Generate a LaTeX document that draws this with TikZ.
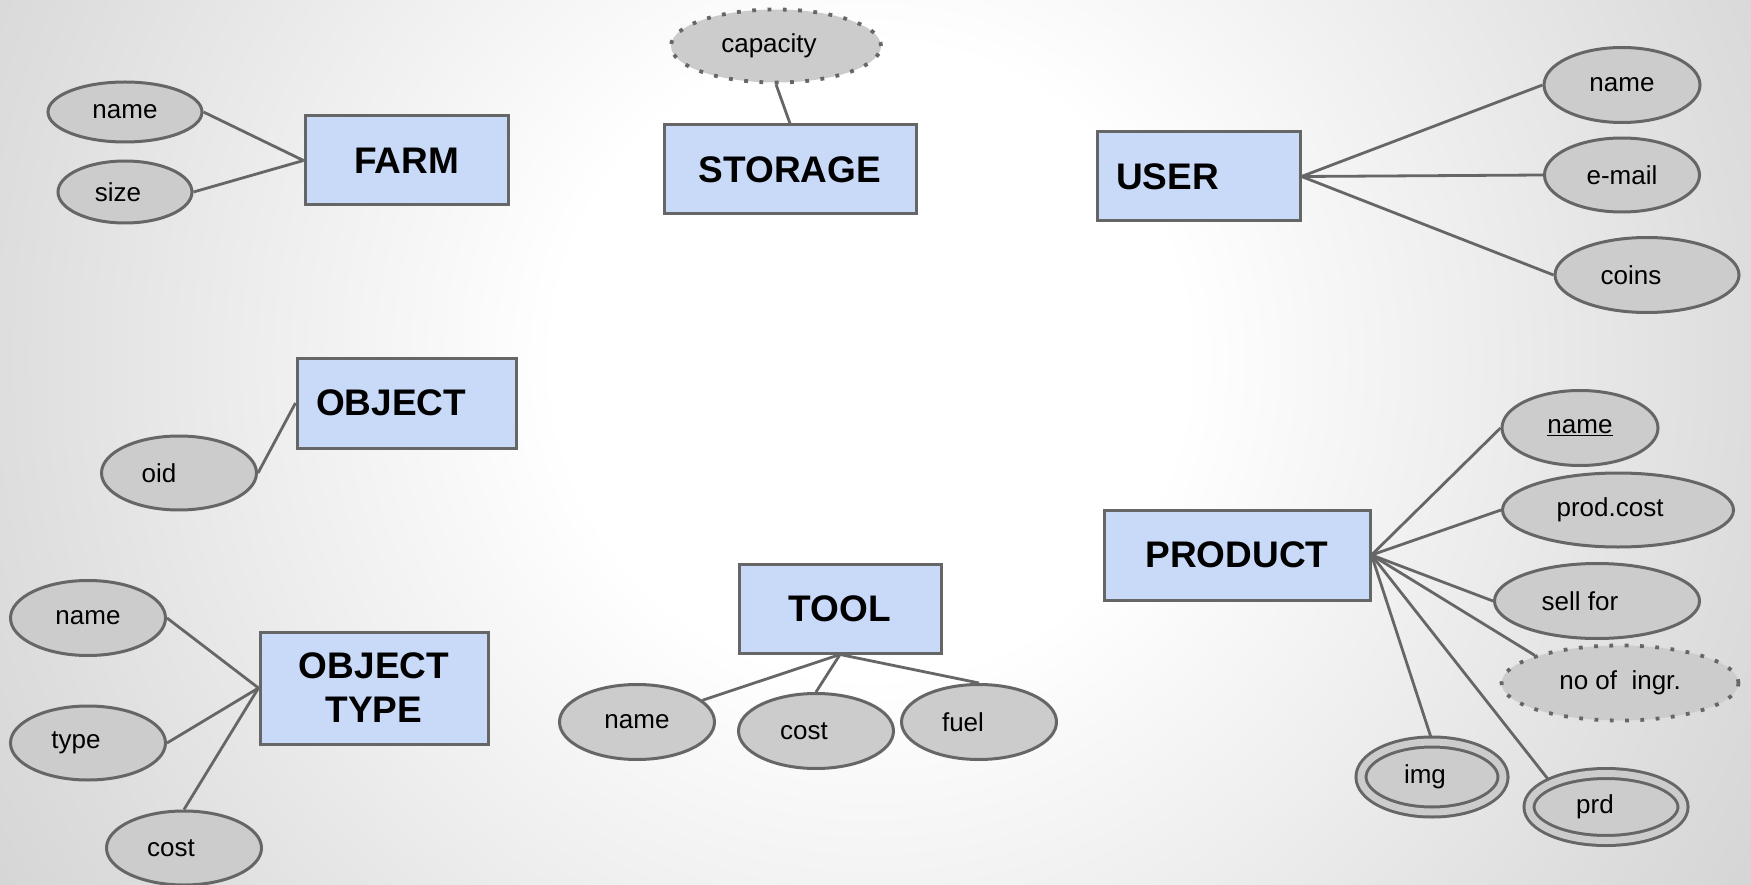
\documentclass[tikz,border=0pt]{standalone}
\usepackage{fontspec}
\setmainfont{Liberation Sans}
\usetikzlibrary{shapes.geometric}

\definecolor{entfill}{HTML}{C9DAF8}
\definecolor{lineclr}{HTML}{666666}
\definecolor{attrfill}{HTML}{CCCCCC}
\definecolor{bgmid}{HTML}{EFEFEF}
\definecolor{bgfar}{HTML}{DDDDDD}
\definecolor{bgouter}{HTML}{D4D4D4}

% soft light page behind the diagram (the shaded circle spans +-25bp)
\pgfdeclareradialshading{pagebg}{\pgfpoint{0bp}{0bp}}{%
  color(0bp)=(white); color(7.5bp)=(white); color(14bp)=(bgmid);
  color(21bp)=(bgfar); color(25bp)=(bgouter); color(50bp)=(bgouter)}

\pgfdeclarelayer{bg}
\pgfdeclarelayer{links}
\pgfsetlayers{bg,links,main}

% text pushed left inside its ellipse by half of #1
\newcommand{\lefttext}[2]{#2\hspace*{#1pt}}

\begin{document}
\begin{tikzpicture}[x=1pt,y=-1pt,
  sz/.style 2 args={minimum width=#1pt, minimum height=#2pt},
  entity/.style={rectangle, draw=lineclr, line width=3pt, fill=entfill,
    inner sep=0pt, font=\fontsize{37}{44}\selectfont\bfseries},
  attr/.style={ellipse, draw=lineclr, line width=3pt, fill=attrfill,
    inner sep=0pt, font=\fontsize{26}{30}\selectfont},
  derived/.style={attr, line width=3.8pt, dash pattern=on 3.8pt off 11.5pt},
  multival/.style={attr, double=attrfill, double distance=7pt},
  link/.style={draw=lineclr, line width=2.8pt}
]
\useasboundingbox (0,0) rectangle (1751,885);
\begin{pgfonlayer}{bg}
  \begin{scope}
    \clip (0,0) rectangle (1751,885);
    \shade[shading=pagebg] (870,360) circle[radius=1050];
  \end{scope}
\end{pgfonlayer}

% entities
\node[entity, sz={203}{89}] (farm) at (406.5,160.5) {FARM};
\node[entity, sz={252}{89}] (storage) at (790,169.5) {STORAGE};
\node[entity, sz={203}{89}, text width=165pt, inner xsep=19pt, align=left] (user) at (1198.5,176.5) {USER};
\node[entity, sz={219}{90}, text width=181pt, inner xsep=19pt, align=left] (object) at (406.5,403) {OBJECT};
\node[entity, sz={228}{112}, align=center] (otype) at (374,688) {OBJECT\\TYPE};
\node[entity, sz={202}{89}] (tool) at (840,608.5) {TOOL};
\node[entity, sz={266}{90}] (product) at (1237,555) {PRODUCT};

% FARM attributes
\node[attr, sz={154}{60}] (farmname) at (125,112) {name};
\node[attr, sz={134}{62}] (farmsize) at (125,192) {\lefttext{14}{size}};

% STORAGE attribute
\node[derived, sz={210}{73}] (capacity) at (776,46) {\lefttext{14}{capacity}};

% USER attributes
\node[attr, sz={156}{75}] (username) at (1622,85) {name};
\node[attr, sz={155}{74}] (email) at (1622,175) {e-mail};
\node[attr, sz={184}{75}] (coins) at (1647,275) {\lefttext{32}{coins}};

% OBJECT attribute
\node[attr, sz={155}{74}] (oid) at (179,473) {\lefttext{40}{oid}};

% OBJECT TYPE attributes
\node[attr, sz={155}{75}] (otname) at (88,618) {name};
\node[attr, sz={155}{74}] (ottype) at (88,743) {\lefttext{24}{type}};
\node[attr, sz={155}{74}] (otcost) at (184,848) {\lefttext{26}{cost}};

% TOOL attributes
\node[attr, sz={155}{75}] (toolname) at (637,722) {name};
\node[attr, sz={155}{75}] (toolcost) at (816,731) {\lefttext{24}{cost}};
\node[attr, sz={155}{75}] (toolfuel) at (979,722) {\lefttext{32}{fuel}};

% PRODUCT attributes
\node[attr, sz={156}{75}] (prodname) at (1580,428) {\underline{name}};
\node[attr, sz={231}{74}] (prodcost) at (1618,510) {\lefttext{16}{prod.cost}};
\node[attr, sz={205}{75}] (sellfor) at (1597,601) {\lefttext{34}{sell for}};
\node[derived, sz={237}{75}] (ningr) at (1620,683) {no of\ \ ingr.};
\node[multival, sz={142}{70}] (img) at (1432,777) {\lefttext{14}{img}};
\node[multival, sz={154}{67}] (prd) at (1606,807) {\lefttext{22}{prd}};

% connectors
\begin{pgfonlayer}{links}
  \draw[link] (farm.west) -- (farmname.east);
  \draw[link] (farm.west) -- (farmsize.east);
  \draw[link] (storage.north) -- (capacity.south);
  \draw[link] (user.east) -- (username.west);
  \draw[link] (user.east) -- (email.west);
  \draw[link] (user.east) -- (coins.west);
  \draw[link] (object.west) -- (oid.east);
  \draw[link] (otype.west) -- (otname.east);
  \draw[link] (otype.west) -- (ottype.east);
  \draw[link] (otype.west) -- (otcost.north);
  \draw[link] (tool.south) -- (toolname);
  \draw[link] (tool.south) -- (toolcost.north);
  \draw[link] (tool.south) -- (toolfuel.north);
  \draw[link] (product.east) -- (prodname.west);
  \draw[link] (product.east) -- (prodcost.west);
  \draw[link] (product.east) -- (sellfor.west);
  \draw[link] (product.east) -- (ningr.162);
  \draw[link] (product.east) -- (img.north);
  \draw[link] (product.east) -- (prd.156);
\end{pgfonlayer}
\end{tikzpicture}
\end{document}
